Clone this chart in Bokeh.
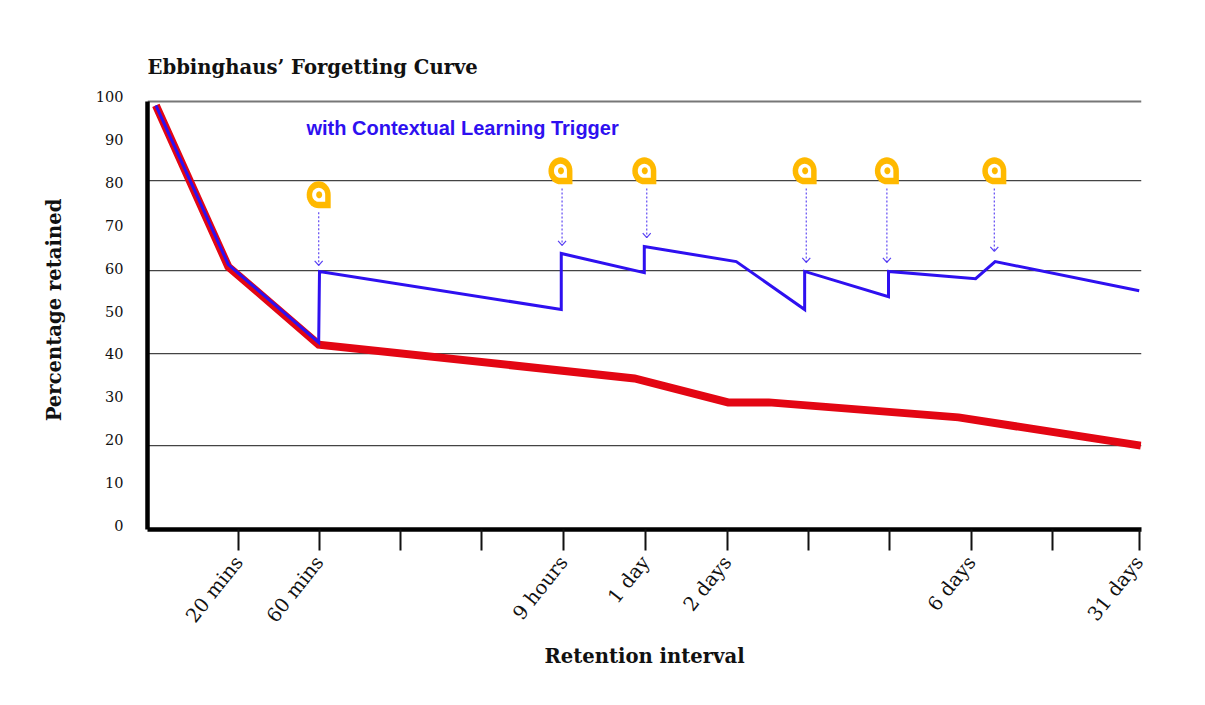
import numpy as np
from bokeh.plotting import figure
from bokeh.embed import file_html
from bokeh.resources import INLINE
from bokeh.core.properties import value
from bokeh.models import FixedTicker, Range1d, Title, LinearAxis

# Data
title_text = "Ebbinghaus’ Forgetting Curve"
series_label = "with Contextual Learning Trigger"
x_label = "Retention interval"
y_label = "Percentage retained"

x_ticks = [1.0, 1.99, 4.99, 5.995, 7.0, 10.0, 12.06]
x_tick_labels = ["20 mins", "60 mins", "9 hours", "1 day", "2 days", "6 days", "31 days"]
x_unlabelled_ticks = [2.99, 3.98, 8.0, 8.99, 10.99]
y_ticks = [0, 10, 20, 30, 40, 50, 60, 70, 80, 90, 100]
grid_values = [19.6, 41.1, 60.5, 81.5]
top_rule = [100.0]

red_x = [-0.02, 0.87, 1.98, 5.86, 7.01, 7.51, 9.84, 12.08]
red_y = [99.07, 61.4, 43.2, 35.3, 29.7, 29.7, 26.2, 19.6]

blue_x = [-0.02, 0.87, 1.98, 1.99, 4.96, 4.96, 5.98, 5.98, 7.11, 7.95, 7.95, 8.98, 8.98, 10.05, 10.29, 12.06]
blue_y = [99.07, 61.9, 43.7, 60.3, 51.4, 64.5, 60.0, 66.1, 62.6, 51.4, 60.3, 54.4, 60.3, 58.6, 62.6, 55.8]

trigger_x = [1.98, 4.97, 6.01, 7.97, 8.96, 10.28]
trigger_start = [74.1, 79.7, 79.7, 79.7, 79.7, 79.7]
trigger_end = [61.7, 66.4, 68.2, 62.4, 62.4, 65.0]
icon_x = [1.98, 4.95, 5.98, 7.95, 8.96, 10.28]
icon_y = [78.2, 83.8, 83.8, 83.8, 83.8, 83.8]

BLUE = "#2E10F0"
RED = "#E30613"
YELLOW = "#FFB900"
SERIF = "DejaVu Serif"

PX_X = 81.4
PX_Y = 4.28

x0, x1 = -0.1229, 12.088
p = figure(width=1200, height=700, output_backend="svg", toolbar_location=None,
           frame_width=994, frame_height=439,
           x_range=Range1d(x0, x1), y_range=Range1d(0, 102.57),
           min_border_left=147, min_border_right=59, min_border_top=90, min_border_bottom=171)
p.outline_line_color = None
p.grid.visible = False
p.background_fill_color = "white"

p.add_layout(Title(text=title_text, align="left", offset=0, standoff=23,
                   text_font=SERIF, text_font_size="19.6px", text_font_style="bold",
                   text_color="#111111"), "above")

xa = p.xaxis[0]
xa.ticker = FixedTicker(ticks=x_ticks, minor_ticks=x_unlabelled_ticks)
xa.major_label_overrides = {t: l for t, l in zip(x_ticks, x_tick_labels)}
xa.major_label_orientation = 0.9
xa.major_label_text_font = SERIF
xa.major_label_text_font_size = "19.5px"
xa.major_label_text_color = "#111111"
xa.major_label_standoff = 8
xa.major_tick_in = 0
xa.major_tick_out = 21
xa.major_tick_line_width = 2
xa.major_tick_line_color = "#111111"
xa.minor_tick_in = 0
xa.minor_tick_out = 21
xa.minor_tick_line_width = 2
xa.minor_tick_line_color = "#111111"
xa.axis_line_width = 4.5
xa.axis_line_color = "black"
xa.axis_label = x_label
xa.axis_label_text_font = SERIF
xa.axis_label_text_font_size = "19.6px"
xa.axis_label_text_font_style = "bold"
xa.axis_label_text_color = "#111111"
xa.axis_label_standoff = 8

# the axis line runs on the data scale; its labels sit on a range lifted a few pixels
ya = p.yaxis[0]
ya.ticker = FixedTicker(ticks=[])
ya.bounds = (0, 100)
ya.major_tick_line_color = None
ya.minor_tick_line_color = None
ya.axis_line_width = 4.5
ya.axis_line_color = "black"

p.extra_y_ranges = {"labels": Range1d(-0.932, 101.4)}
yl = LinearAxis(y_range_name="labels", ticker=FixedTicker(ticks=y_ticks))
yl.axis_line_color = None
yl.major_tick_line_color = None
yl.minor_tick_line_color = None
yl.major_label_text_font = SERIF
yl.major_label_text_font_size = "14.5px"
yl.major_label_text_color = "#111111"
yl.major_label_standoff = 18
yl.axis_label = y_label
yl.axis_label_text_font = SERIF
yl.axis_label_text_font_size = "19.6px"
yl.axis_label_text_font_style = "bold"
yl.axis_label_text_color = "#111111"
yl.axis_label_standoff = 27
p.add_layout(yl, "left")

p.segment(x0=[x0] * len(grid_values), x1=[x1] * len(grid_values), y0=grid_values, y1=grid_values,
          line_color="#444444", line_width=1.2)
p.segment(x0=[x0], x1=[x1], y0=top_rule, y1=top_rule, line_color="#777777", line_width=2)

p.line(red_x, red_y, line_color=RED, line_width=8, line_join="miter", line_cap="butt")
p.line(blue_x, blue_y, line_color=BLUE, line_width=3, line_join="miter", line_cap="butt")

p.text(x=[1.83], y=[93.7], text=[series_label], text_color=BLUE,
       text_font=value("Liberation Sans"), text_font_size="20px", text_font_style="bold",
       text_baseline="alphabetic", text_align="left")

# dashed trigger arrows: a shaft and an open head
p.segment(x0=trigger_x, x1=trigger_x, y0=trigger_start, y1=trigger_end,
          line_color=BLUE, line_width=1.3, line_dash="2 2", line_alpha=0.7)
hx = [[x - 4 / PX_X, x, x + 4 / PX_X] for x in trigger_x]
hy = [[y + 4.5 / PX_Y, y, y + 4.5 / PX_Y] for y in trigger_end]
p.multi_line(hx, hy, line_color=BLUE, line_width=1.2, line_alpha=0.8)


def pin(cx, cy, rx, ry, corner=True):
    ang = np.radians(np.arange(0, 271, 10)) if corner else np.radians(np.arange(0, 361, 15))
    xs = list(cx + rx * np.cos(ang) / PX_X)
    ys = list(cy + ry * np.sin(ang) / PX_Y)
    if corner:
        xs.append(cx + rx / PX_X)
        ys.append(cy - ry / PX_Y)
    return xs, ys


for cx, cy in zip(icon_x, icon_y):
    xs, ys = pin(cx, cy, 12, 13.5)
    p.patch(xs, ys, fill_color=YELLOW, line_color=None)
    xs, ys = pin(cx, cy, 6.5, 7)
    p.patch(xs, ys, fill_color="white", line_color=None)
    xs, ys = pin(cx + 0.5 / PX_X, cy, 3, 3.5, corner=False)
    p.patch(xs, ys, fill_color=YELLOW, line_color=None)

open("out.html", "w").write(file_html(p, INLINE))
